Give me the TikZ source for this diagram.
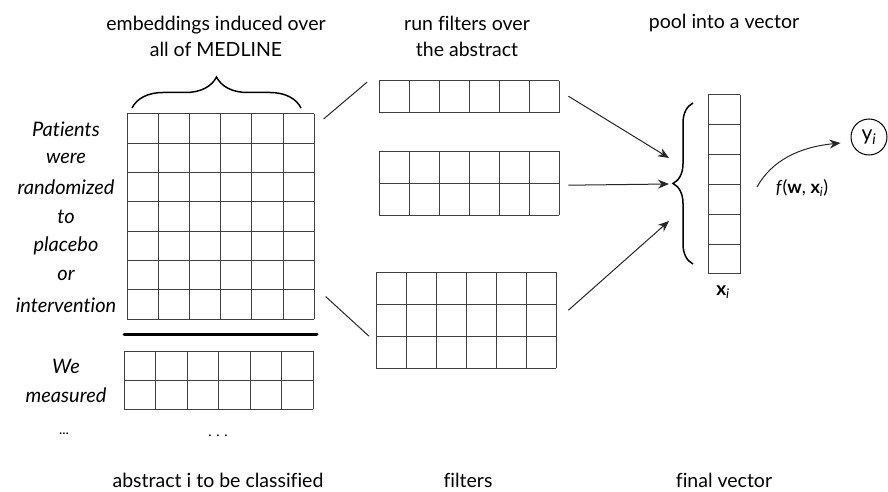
\documentclass[tikz,border=0pt]{standalone}
\usepackage{fontspec}
\setmainfont{Lato}[Ligatures=NoCommon]
\usetikzlibrary{calc,decorations.pathreplacing,arrows.meta}
\tikzset{
  cellgrid/.style={draw=black!75, line width=1pt},
  caption/.style={align=center, font=\fontsize{19.5}{26}\selectfont},
  word/.style={font=\fontsize{20}{29}\selectfont\itshape},
  link/.style={line width=1pt, draw=black!85},
  feed/.style={link, -{Stealth[length=11pt,width=9pt]}},
  bigbrace/.style={decorate, line width=1.5pt,
    decoration={brace, amplitude=#1}}
}
% name, x, y, columns, rows, cell width, cell height
\newcommand{\cells}[7]{
  \node[inner sep=0pt, anchor=north west,
    minimum width=#4*#6, minimum height=#5*#7] (#1) at (#2,#3) {};
  \foreach \c in {0,...,#4}
    \draw[cellgrid] ({#2+\c*#6},#3) -- ({#2+\c*#6},{#3+#5*#7});
  \foreach \r in {0,...,#5}
    \draw[cellgrid] (#2,{#3+\r*#7}) -- ({#2+#4*#6},{#3+\r*#7});
}

\begin{document}
\begin{tikzpicture}[x=1pt, y=-1pt]
  \useasboundingbox (0,0) rectangle (888,492);

  % abstract, one row per word
  \cells{emb}{127}{114}{6}{7}{31.2}{29.3}
  \cells{sent}{124}{351}{6}{2}{31.5}{29}
  \draw[line width=3pt, line cap=round] (124,334) -- (317,334);
  \foreach \w [count=\k from 0] in {Patients,were,randomized,to,placebo,or,intervention}
    \node[word] (w\k) at (66,{129+\k*29.3}) {\w};
  \node[word] (we) at (66,366) {We};
  \node[word] (meas) at (66,395) {measured};
  \node[font=\fontsize{14}{14}\selectfont] (dots-a) at (64,434) {...};
  \node[font=\fontsize{14}{14}\selectfont] (dots-b) at (218,436) {. . .};
  \draw[bigbrace=31pt] (132,108) -- (301,108);

  % filters
  \cells{filt1}{379}{81}{6}{1}{30}{32}
  \cells{filt2}{379}{151}{6}{2}{30}{32}
  \cells{filt3}{376}{272}{6}{3}{30}{32}
  \draw[link] ($(emb.north east)+(9,5)$) -- ($(filt1.west)+(-12,-15)$);
  \draw[link] ($(emb.south east)+(11,-23)$) -- ($(filt3.west)+(-7,16)$);

  % pooled vector
  \cells{vec}{708}{95}{1}{6}{32}{29.8}
  \draw[bigbrace=20pt] (693,264) -- (693,103);
  \coordinate (tip) at (672,184);
  \draw[feed] ($(filt1.east)+(9,-1)$) -- ($(tip)+(-3,-26)$);
  \draw[feed] ($(filt2.east)+(9,2)$) -- ($(tip)+(-3,0)$);
  \draw[feed] ($(filt3.east)+(12,-10)$) -- ($(tip)+(-3,37)$);
  \node (xi) at (723,292) {\fontsize{19}{19}\selectfont\textbf{x}\textsubscript{\textit{i}}};

  % output
  \node[circle, draw, line width=1pt, minimum size=36pt, inner sep=0pt,
    font=\fontsize{21}{21}\selectfont] (yi) at (869,137) {y\textsubscript{\textit{i}}};
  \draw[feed] (757,187) .. controls (772,160) and (800,147) .. ($(yi.west)+(-10,6)$);
  \node[font=\fontsize{18}{18}\selectfont] (fun) at (802,188)
    {\textit{f}(\textbf{w}, \textbf{x}\textsubscript{\textit{i}})};

  % captions
  \node[caption] (cap-emb) at (216,36) {embeddings induced over\\all of MEDLINE};
  \node[caption] (cap-run) at (467,36) {run filters over\\the abstract};
  \node[caption] (cap-pool) at (724,23) {pool into a vector};
  \node[caption] (cap-abs) at (218,480) {abstract i to be classified};
  \node[caption] (cap-filt) at (468,480) {filters};
  \node[caption] (cap-fin) at (724,480) {final vector};
\end{tikzpicture}
\end{document}
